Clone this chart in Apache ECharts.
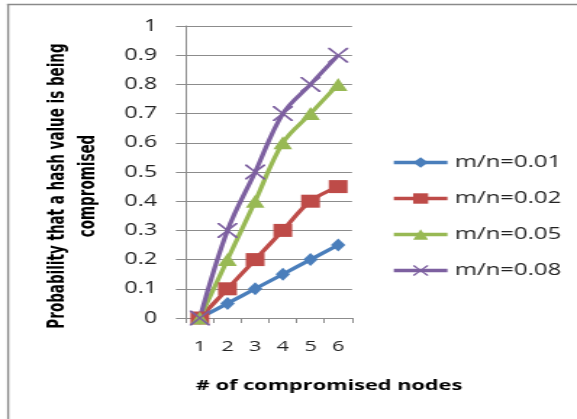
<!DOCTYPE html>
<html>
<head>
<meta charset="utf-8">
<script src="https://cdn.jsdelivr.net/npm/echarts@6/dist/echarts.min.js"></script>
<style>
  html, body { margin: 0; padding: 0; background: #fff; overflow: hidden; }
  #wrap { width: 577px; height: 419px; overflow: hidden; }
  #chart { width: 398px; height: 419px; transform: scaleX(1.4497); transform-origin: 0 0; }
</style>
</head>
<body>
<div id="wrap"><div id="chart"></div></div>
<script>
const categories = ['1', '2', '3', '4', '5', '6'];
const seriesNames = ['m/n=0.01', 'm/n=0.02', 'm/n=0.05', 'm/n=0.08'];
const s001 = [0, 0.05, 0.10, 0.15, 0.20, 0.25];
const s002 = [0, 0.10, 0.20, 0.30, 0.40, 0.45];
const s005 = [0, 0.20, 0.40, 0.60, 0.70, 0.80];
const s008 = [0, 0.30, 0.50, 0.70, 0.80, 0.90];
const yTickLabels = ['0', '0.1', '0.2', '0.3', '0.4', '0.5', '0.6', '0.7', '0.8', '0.9', '1'];
const xTitle = '# of compromised nodes';
const yTitle = 'Probability that a hash value is being\ncompromised';

const FONT = '"Open Sans", "Noto Sans", sans-serif';
const GRID = '#8c8c8c';
const xMark = 'path://M0,0L1,0L5,4.3L9,0L10,0L10,0.8L5.7,5L10,9.2L10,10L9,10L5,5.7L1,10L0,10L0,9.2L4.3,5L0,0.8Z';

const chart = echarts.init(document.getElementById('chart'), null, { renderer: 'canvas' });

function mkSeries(name, data, color, symbol, size) {
  return {
    name: name, type: 'line', data: data, smooth: 0.35,
    symbol: symbol, symbolSize: size, showSymbol: true,
    lineStyle: { color: color, width: 3.3 },
    itemStyle: { color: color },
    emphasis: { disabled: true },
    animation: false
  };
}

chart.setOption({
  animation: false,
  grid: { left: 128.3, right: 155.2, top: 26, bottom: 101, containLabel: false },
  xAxis: {
    type: 'category', data: categories, boundaryGap: true,
    axisLine: { lineStyle: { color: GRID, width: 1 } },
    axisTick: { show: true, length: 5, interval: 0, lineStyle: { color: GRID } },
    axisLabel: { margin: 21, fontFamily: FONT, fontSize: 15, color: '#222' },
    splitLine: { show: false }
  },
  yAxis: {
    type: 'value', min: 0, max: 1, interval: 0.1,
    axisLine: { show: true, lineStyle: { color: GRID, width: 1 } },
    axisTick: { show: true, length: 7, lineStyle: { color: GRID } },
    axisLabel: { margin: 20, fontFamily: FONT, fontSize: 16, color: '#222',
      formatter: v => yTickLabels[Math.round(v * 10)] },
    splitLine: { show: true, lineStyle: { color: GRID, width: 1 } }
  },
  legend: {
    orient: 'vertical', left: 265, top: 149,
    itemWidth: 37, itemHeight: 13, itemGap: 19,
    lineStyle: { width: 3.3 },
    textStyle: { fontFamily: FONT, fontSize: 16.5, color: '#222' },
    data: seriesNames
  },
  series: [
    mkSeries(seriesNames[0], s001, '#4a7ebb', 'diamond', [10, 13]),
    mkSeries(seriesNames[1], s002, '#be4b48', 'rect', [13, 13]),
    mkSeries(seriesNames[2], s005, '#98b954', 'triangle', [13, 13]),
    mkSeries(seriesNames[3], s008, '#7d60a0', xMark, [14, 15])
  ],
  graphic: [
    { type: 'line', silent: true, shape: { x1: 4.8, y1: 4.5, x2: 398, y2: 4.5 },
      style: { stroke: '#8a8a8a', lineWidth: 1.5 } },
    { type: 'line', silent: true, shape: { x1: 5.6, y1: 4.5, x2: 5.6, y2: 419 },
      style: { stroke: '#8a8a8a', lineWidth: 1.4 } },
    { type: 'text', silent: true, x: 227, y: 386,
      style: { text: xTitle, fontFamily: FONT, fontWeight: 'bold', fontSize: 15, fill: '#000',
        textAlign: 'center', textVerticalAlign: 'middle' } },
    { type: 'text', silent: true, x: 51, y: 186, rotation: Math.PI / 2,
      style: { text: yTitle, fontFamily: '"Liberation Sans Narrow", "DejaVu Sans Condensed", sans-serif',
        fontWeight: 'bold', fontSize: 15, lineHeight: 21, fill: '#000',
        textAlign: 'center', textVerticalAlign: 'middle' } }
  ]
});
</script>
</body>
</html>
